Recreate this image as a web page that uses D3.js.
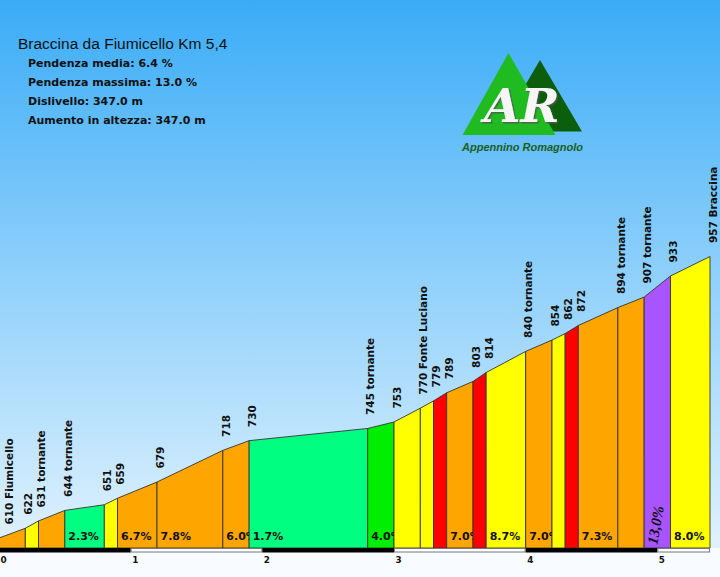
<!DOCTYPE html>
<html><head><meta charset="utf-8">
<script src="https://cdn.jsdelivr.net/npm/d3@7/dist/d3.min.js"></script>
<style>html,body{margin:0;padding:0;background:#f8fbff;}svg{display:block;}</style>
</head><body>
<svg id="c" width="720" height="577"></svg>
<script>
// ---- data ----
const title = "Braccina da Fiumicello Km 5,4";
const stats = ["Pendenza media: 6.4 %", "Pendenza massima: 13.0 %", "Dislivello: 347.0 m", "Aumento in altezza: 347.0 m"];
const km = [0, 0.2, 0.3, 0.5, 0.8, 0.9, 1.2, 1.7, 1.9, 2.8, 3.0, 3.2, 3.3, 3.4, 3.6, 3.7, 4.0, 4.2, 4.3, 4.4, 4.7, 4.9, 5.1, 5.4];
const elev = [610, 622, 631, 644, 651, 659, 679, 718, 730, 745, 753, 770, 779, 789, 803, 814, 840, 854, 862, 872, 894, 907, 933, 957];
const placeNames = ["Fiumicello", "", "tornante", "tornante", "", "", "", "", "", "tornante", "", "Fonte Luciano", "", "", "", "", "tornante", "", "", "", "tornante", "tornante", "", "Braccina"];
const pctShown = [3, 5, 6, 7, 8, 9, 13, 15, 16, 19, 21, 22];
const kmTicks = [0, 1, 2, 3, 4, 5];
const gradeBreaks = [3, 6, 8, 10, 12.5];
const gradeColors = ["#00ff80", "#00ee00", "#ffa500", "#ffff00", "#ff0000", "#a855ff"];

// ---- layout ----
const svg = d3.select("#c");
const base = 548;
const x = d3.scaleLinear().domain([0, 5.4]).range([-1, 710]);
const y = d3.scaleLinear().domain([610, 957]).range([538, 256.5]);
const color = d3.scaleThreshold().domain(gradeBreaks).range(gradeColors);

const defs = svg.append("defs");
const lg = defs.append("linearGradient").attr("id", "sky").attr("x1", 0).attr("y1", 0).attr("x2", 0).attr("y2", 1);
lg.append("stop").attr("offset", "0").attr("stop-color", "#3aacf7");
lg.append("stop").attr("offset", "0.5").attr("stop-color", "#8fd0fb");
lg.append("stop").attr("offset", "1").attr("stop-color", "#e0f2fe");
const sh = defs.append("filter").attr("id", "shadow").attr("x", "-20%").attr("y", "-20%").attr("width", "140%").attr("height", "140%");
sh.append("feDropShadow").attr("dx", 1.5).attr("dy", 1.5).attr("stdDeviation", 0.6).attr("flood-color", "#555").attr("flood-opacity", 0.8);
svg.append("rect").attr("width", 720).attr("height", 577).attr("fill", "#f8fbff");
svg.append("rect").attr("width", 720).attr("height", base).attr("fill", "url(#sky)");

// ---- title ----
svg.append("text").attr("x", 18).attr("y", 48.5).attr("font-family", "Liberation Sans, Arial, sans-serif")
  .attr("font-size", 15.5).attr("fill", "#111").text(title);
svg.selectAll("text.stat").data(stats).join("text").attr("class", "stat")
  .attr("x", 28).attr("y", (d, i) => 66.7 + i * 19.2)
  .attr("font-family", "DejaVu Sans, Verdana, sans-serif").attr("font-weight", "bold")
  .attr("font-size", 11).attr("fill", "#111").text(d => d);

// ---- logo ----
const logo = svg.append("g");
logo.append("path").attr("d", "M540,60 L582,131.5 L498,131.5 Z").attr("fill", "#0b5e0b");
logo.append("path").attr("d", "M508.5,53 L555.5,135 L462.5,135 Z").attr("fill", "#20bb20");
logo.append("text").attr("x", 484).attr("y", 122).attr("font-family", "DejaVu Serif, serif")
  .attr("font-style", "italic").attr("font-weight", "bold").attr("font-size", 47).attr("fill", "#f6f6f6")
  .attr("filter", "url(#shadow)").text("AR");
logo.append("text").attr("x", 462).attr("y", 151).attr("font-family", "Liberation Sans, Arial, sans-serif")
  .attr("font-style", "italic").attr("font-weight", "bold").attr("font-size", 11).attr("fill", "#1c5e1c").text("Appennino Romagnolo");

// ---- segments ----
const segs = d3.range(km.length - 1).map(i => {
  const g = Math.round((elev[i + 1] - elev[i]) / ((km[i + 1] - km[i]) * 1000) * 1000) / 10;
  return {i, k0: km[i], k1: km[i + 1], e0: elev[i], e1: elev[i + 1], g};
});
segs.forEach(s => {
  defs.append("clipPath").attr("id", "cl" + s.i).append("rect")
    .attr("x", x(s.k0)).attr("y", 0).attr("width", x(s.k1) - x(s.k0)).attr("height", base);
});
svg.selectAll("path.seg").data(segs).join("path").attr("class", "seg")
  .attr("d", s => `M${x(s.k0)},${base}L${x(s.k0)},${y(s.e0)}L${x(s.k1)},${y(s.e1)}L${x(s.k1)},${base}Z`)
  .attr("fill", s => color(s.g)).attr("stroke", "#333").attr("stroke-width", 0.9);

// percent labels
const shown = segs.filter(s => pctShown.includes(s.i));
shown.forEach(s => {
  if (s.g >= 12.5) {
    svg.append("text").attr("transform", `translate(${x(s.k0) + 13},545) rotate(-80)`)
      .attr("font-family", "Liberation Serif, Times New Roman, serif").attr("font-style", "italic")
      .attr("font-weight", "bold").attr("font-size", 15).attr("fill", "#111")
      .text(s.g.toFixed(1).replace(".", ",") + "%");
  } else {
    svg.append("text").attr("x", x(s.k0) + 3.5).attr("y", 539.5).attr("clip-path", `url(#cl${s.i})`)
      .attr("font-family", "DejaVu Sans, Verdana, sans-serif").attr("font-weight", "bold")
      .attr("font-size", 11).attr("fill", "#111").text(s.g.toFixed(1) + "%");
  }
});

// point labels
const pts = elev.map((e, i) => ({e, k: km[i], name: placeNames[i]}));
svg.selectAll("text.pt").data(pts).join("text").attr("class", "pt")
  .attr("transform", d => `translate(${Math.max(x(d.k) + 6.8, 13)},${y(d.e) - 13.5}) rotate(-90)`)
  .attr("font-family", "DejaVu Sans, Verdana, sans-serif").attr("font-weight", "bold")
  .attr("font-size", 10.5).attr("fill", "#111")
  .text(d => d.name ? d.e + " " + d.name : String(d.e));

// ---- km axis strip ----
const strip = kmTicks.map(k => ({k0: k, k1: Math.min(k + 1, 5.4)}));
svg.selectAll("rect.strip").data(strip).join("rect").attr("class", "strip")
  .attr("x", d => x(d.k0) + (d.k0 % 2 ? 0.5 : 0)).attr("y", d => base + (d.k0 % 2 ? 0.5 : 0))
  .attr("width", d => x(d.k1) - x(d.k0) - (d.k0 % 2 ? 1 : 0)).attr("height", d => d.k0 % 2 ? 3.5 : 4.5)
  .attr("fill", d => d.k0 % 2 ? "#ffffff" : "#000000")
  .attr("stroke", d => d.k0 % 2 ? "#777" : "none").attr("stroke-width", 1);

const axis = d3.axisBottom(d3.scaleLinear().domain([0, 5.4]).range([0, 711])).tickValues(kmTicks).tickSize(0).tickFormat(d3.format("d"));
const ag = svg.append("g").attr("transform", `translate(0,${base + 6})`).call(axis);
ag.select(".domain").remove();
ag.selectAll("text").attr("text-anchor", "start").attr("dy", 0).attr("y", 8.5)
  .attr("font-family", "DejaVu Sans, Verdana, sans-serif").attr("font-weight", "bold")
  .attr("font-size", 8.8).attr("fill", "#111");
</script>
</body></html>
